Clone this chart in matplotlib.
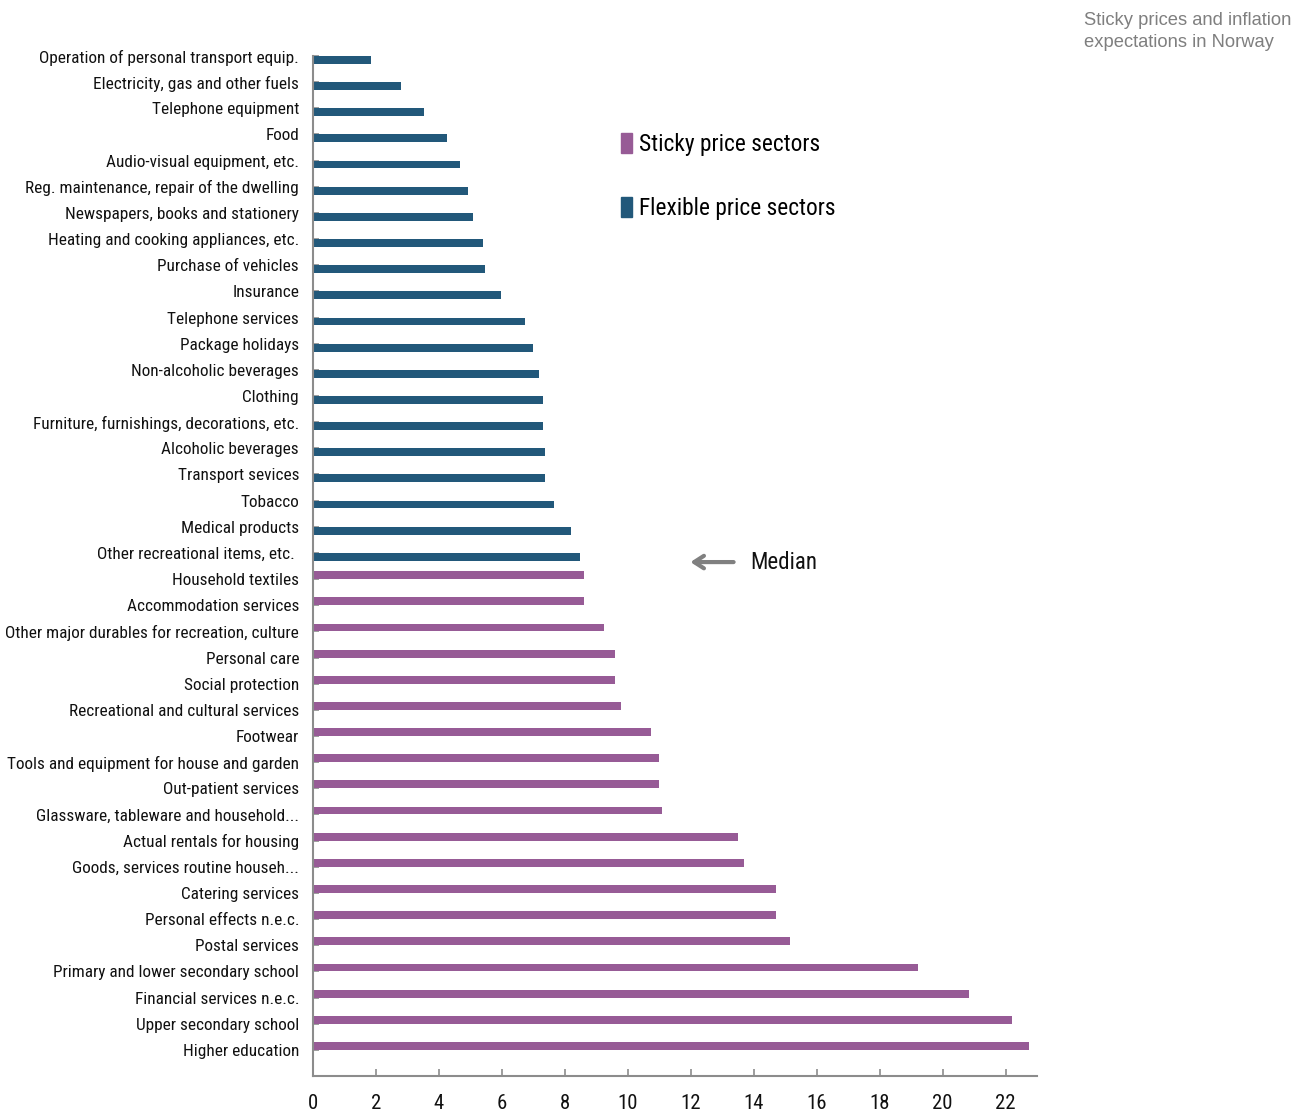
import matplotlib
matplotlib.use("Agg")
import matplotlib.pyplot as plt
from matplotlib.patches import Patch
from matplotlib import font_manager

categories = [
    "Operation of personal transport equip.",
    "Electricity, gas and other fuels",
    "Telephone equipment",
    "Food",
    "Audio-visual equipment, etc.",
    "Reg. maintenance, repair of the dwelling",
    "Newspapers, books and stationery",
    "Heating and cooking appliances, etc.",
    "Purchase of vehicles",
    "Insurance",
    "Telephone services",
    "Package holidays",
    "Non-alcoholic beverages",
    "Clothing",
    "Furniture, furnishings, decorations, etc.",
    "Alcoholic beverages",
    "Transport sevices",
    "Tobacco",
    "Medical products",
    "Other recreational items, etc. ",
    "Household textiles",
    "Accommodation services",
    "Other major durables for recreation, culture",
    "Personal care",
    "Social protection",
    "Recreational and cultural services",
    "Footwear",
    "Tools and equipment for house and garden",
    "Out-patient services",
    "Glassware, tableware and household...",
    "Actual rentals for housing",
    "Goods, services routine househ...",
    "Catering services",
    "Personal effects n.e.c.",
    "Postal services",
    "Primary and lower secondary school",
    "Financial services n.e.c.",
    "Upper secondary school",
    "Higher education",
]
values = [
    1.83, 2.81, 3.53, 4.25, 4.68, 4.92, 5.08, 5.40, 5.47, 5.98,
    6.75, 6.99, 7.17, 7.30, 7.30, 7.37, 7.37, 7.65, 8.20, 8.47,
    8.62, 8.62, 9.25, 9.59, 9.59, 9.80, 10.75, 10.98, 10.98, 11.10,
    13.49, 13.69, 14.71, 14.71, 15.14, 19.22, 20.84, 22.22, 22.74,
]
sector = ["flexible"] * 20 + ["sticky"] * 19
x_ticks = list(range(0, 23, 2))

series_labels = {"sticky": "Sticky price sectors", "flexible": "Flexible price sectors"}
colors = {"sticky": "#975B96", "flexible": "#22587A"}
title_text = "Sticky prices and inflation\nexpectations in Norway"

available = {f.name for f in font_manager.fontManager.ttflist}
cands = ["Roboto Condensed", "Liberation Sans Narrow", "Open Sans Condensed",
         "DejaVu Sans Condensed", "Liberation Sans"]
narrow_name = next((c for c in cands if c in available), "DejaVu Sans")
NARROW = [narrow_name, "DejaVu Sans"]
REG = ["Liberation Sans", "DejaVu Sans"]

fig = plt.figure(figsize=(13.11, 11.15), dpi=100)
renderer = fig.canvas.get_renderer()


def fit_size(text, target_px, family, ref=10.0):
    t = fig.text(0, 0, text, family=family, fontsize=ref)
    w = t.get_window_extent(renderer).width
    t.remove()
    return ref * target_px / w


lab_fs = fit_size("Electricity, gas and other fuels", 204, NARROW)
leg_fs = fit_size("Sticky price sectors", 179, NARROW)
med_fs = fit_size("Median", 67, NARROW)

ax = fig.add_axes([313 / 1311, 39 / 1115, (1037 - 313) / 1311, (1076 - 56) / 1115])

bar_h = 0.3
for kind, sign in (("flexible", 1), ("sticky", -1)):
    idx = [i for i, s in enumerate(sector) if s == kind]
    vals = [values[i] for i in idx]
    ax.barh(idx, vals, height=sign * bar_h, align="edge", color=colors[kind],
            edgecolor="none", zorder=2)

ax.set_ylim(len(categories), 0)
ax.set_xlim(0, 23)
ax.set_yticks(range(len(categories)))
ax.set_yticklabels(categories, family=NARROW, fontsize=lab_fs, color="#111111")
ax.set_xticks(x_ticks)
ax.set_xticklabels([str(t) for t in x_ticks], family=NARROW, fontsize=lab_fs * 1.2,
                   color="#111111")

for s in ("top", "right"):
    ax.spines[s].set_visible(False)
for s in ("left", "bottom"):
    ax.spines[s].set_color("#8C8C8C")
    ax.spines[s].set_linewidth(1.5)
ax.tick_params(axis="y", direction="in", length=4, width=1.2, color="#8C8C8C", pad=10)
ax.tick_params(axis="x", direction="in", length=5, width=1.2, color="#8C8C8C", pad=13)

# Legend
fig.legend([Patch(color=colors["sticky"]), Patch(color=colors["flexible"])],
           [series_labels["sticky"], series_labels["flexible"]],
           loc="upper left", bbox_to_anchor=(600 / 1311, 1 - 112 / 1115),
           frameon=False, handlelength=0.45, handleheight=0.95, handletextpad=0.3,
           labelspacing=1.75, prop={"family": NARROW, "size": leg_fs})

# Median annotation
ax.annotate("", xy=(11.9, 19.35), xytext=(13.45, 19.35),
            arrowprops=dict(arrowstyle="->,head_length=0.7,head_width=0.45",
                            color="#808080", lw=3))
ax.text(13.9, 19.35, "Median", family=NARROW, fontsize=med_fs, va="center", ha="left",
        color="#111111")

fig.text(1084 / 1311, 1 - 12 / 1115, title_text, family=REG, fontsize=13.2,
         color="#7F7F7F", va="top", ha="left", linespacing=1.37)

fig.savefig("out.png", dpi=100)
